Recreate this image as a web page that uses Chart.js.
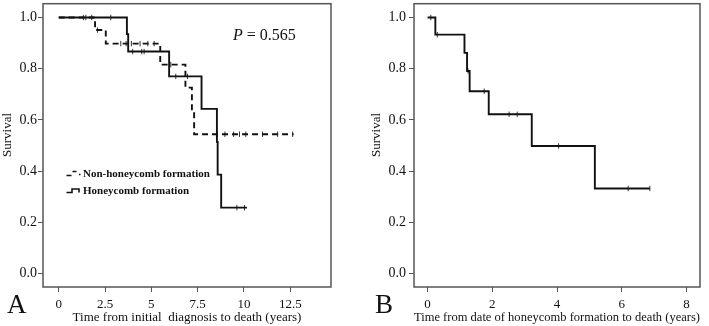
<!DOCTYPE html>
<html>
<head>
<meta charset="utf-8">
<script src="https://cdn.jsdelivr.net/npm/chart.js@4.4.1/dist/chart.umd.min.js"></script>
<style>
  html, body { margin: 0; padding: 0; background: #fff; }
  #wrap { position: relative; width: 709px; height: 326px; overflow: hidden; }
  .panel { position: absolute; top: 0; width: 354px; height: 326px; }
</style>
</head>
<body>
<div id="wrap">
  <div class="panel" style="left:0"><canvas id="canvasA" width="354" height="326"></canvas></div>
  <div class="panel" style="left:355px"><canvas id="canvasB" width="354" height="326"></canvas></div>
</div>
<script>
// panel A - honeycomb formation (solid)
const honeyTimes = [0, 3.68, 3.75, 5.96, 7.71, 8.54, 8.58, 8.77, 10.16];
const honeySurv  = [1.0, 0.935, 0.867, 0.770, 0.643, 0.514, 0.386, 0.257, 0.257];
const honeyCensor = [1.33, 1.46, 2.81, 3.99, 4.48, 4.61, 6.32, 6.95, 9.62, 10.03];

// panel A - non-honeycomb formation (dashed)
const nonTimes = [0, 1.96, 2.54, 5.48, 6.84, 7.19, 7.31, 12.68];
const nonSurv  = [1.0, 0.951, 0.898, 0.816, 0.726, 0.635, 0.544, 0.544];
const nonCensor = [1.78, 2.09, 3.35, 3.64, 3.92, 4.39, 4.81, 5.15, 6.05, 8.57, 8.97, 9.44, 9.76, 10.1, 11.0, 11.82, 12.63];

// panel B - time from honeycomb formation
const bTimes = [0, 0.24, 1.14, 1.22, 1.30, 1.89, 3.22, 5.17, 6.87];
const bSurv  = [1.0, 0.933, 0.862, 0.791, 0.712, 0.622, 0.498, 0.332, 0.332];
const bCensor = [0.1, 0.3, 1.25, 1.75, 2.52, 2.77, 4.05, 6.2, 6.87];

const yTicks = [0, 0.2, 0.4, 0.6, 0.8, 1.0];
const xTicksA = [0, 2.5, 5, 7.5, 10, 12.5];
const xTicksB = [0, 2, 4, 6, 8];

const serif = "'Liberation Serif', 'Times New Roman', serif";
const ink = '#111';
const frameColor = '#555';

function stepPoints(times, surv) {
  return times.map((t, i) => ({x: t, y: surv[i]}));
}
// censored marks sit on the curve level at that time
function censorPoints(times, surv, cens) {
  return cens.map(t => {
    let s = surv[0];
    for (let i = 0; i < times.length; i++) if (times[i] <= t) s = surv[i];
    return {x: t, y: s};
  });
}

function curve(label, pts, dash) {
  return {label: label, data: pts, stepped: 'before', showLine: true, pointRadius: 0,
    borderColor: ink, borderWidth: 1.9, borderDash: dash, fill: false};
}
function marks(pts) {
  return {label: '', data: pts, showLine: false, pointStyle: 'line', rotation: 90,
    pointRadius: 2.7, pointHoverRadius: 2.7, borderColor: '#333', borderWidth: 1};
}

const extras = {
  id: 'extras',
  beforeDatasetsDraw(chart) {
    const ctx = chart.ctx, a = chart.chartArea;
    ctx.save();
    ctx.strokeStyle = frameColor;
    ctx.lineWidth = 1.5;
    ctx.strokeRect(a.left, a.top, a.right - a.left, a.bottom - a.top);
    ctx.restore();
  },
  afterDraw(chart, args, o) {
    const ctx = chart.ctx;
    ctx.save();
    ctx.fillStyle = ink;
    // y title
    ctx.font = '13px ' + serif;
    ctx.textAlign = 'center';
    ctx.textBaseline = 'middle';
    ctx.translate(o.yTitleX, 135);
    ctx.rotate(-Math.PI / 2);
    ctx.fillText('Survival', 0, 0);
    ctx.setTransform(1, 0, 0, 1, 0, 0);
    // panel letter
    ctx.font = '27px ' + serif;
    ctx.textAlign = 'left';
    ctx.textBaseline = 'alphabetic';
    ctx.fillText(o.letter, o.letterX, 313);
    if (o.pValue) {
      ctx.font = 'italic 16px ' + serif;
      ctx.fillText('P', 233, 40);
      const w = ctx.measureText('P').width;
      ctx.font = '16px ' + serif;
      ctx.fillText(' = ' + o.pValue, 233 + w, 40);
    }
    if (o.legend) {
      const ds = chart.data.datasets;
      ctx.font = 'bold 11px ' + serif;
      ctx.textBaseline = 'middle';
      ctx.fillText(ds[0].label, 83, 174);
      ctx.fillText(ds[1].label, 83, 191);
      ctx.strokeStyle = ink;
      ctx.lineWidth = 1.6;
      ctx.beginPath();
      ctx.moveTo(66.5, 175.5); ctx.lineTo(71.5, 175.5);
      ctx.moveTo(72.5, 171.5); ctx.lineTo(76.5, 171.5);
      ctx.moveTo(79, 174.5); ctx.lineTo(80.5, 174.5);
      ctx.moveTo(66.5, 192.5); ctx.lineTo(72, 192.5); ctx.lineTo(72, 189); ctx.lineTo(79, 189); ctx.lineTo(79, 192.5);
      ctx.stroke();
    }
    ctx.restore();
  }
};

function axisGrid() {
  return {drawOnChartArea: false, drawTicks: true, tickLength: 5, color: frameColor, lineWidth: 1};
}

function makeChart(id, datasets, cfg) {
  return new Chart(document.getElementById(id), {
    type: 'line',
    data: {datasets: datasets},
    plugins: [extras],
    options: {
      responsive: false,
      animation: false,
      layout: {padding: {left: cfg.padLeft, right: cfg.padRight, top: 1, bottom: 0}},
      plugins: {
        legend: {display: false},
        tooltip: {enabled: false},
        extras: cfg.extras
      },
      scales: {
        x: {
          type: 'linear', min: cfg.xMin, max: cfg.xMax,
          afterBuildTicks: s => { s.ticks = cfg.xTicks.map(v => ({value: v})); },
          afterFit: s => { s.height = 39; s.paddingLeft = 0; s.paddingRight = 0; },
          border: {display: false},
          grid: axisGrid(),
          ticks: {padding: 5, color: ink, font: {family: serif, size: 13}},
          title: {display: true, text: cfg.xTitle, color: ink,
            font: {family: serif, size: 13}, padding: {top: 0, bottom: 1}}
        },
        y: {
          type: 'linear', min: -0.053, max: 1.054,
          afterBuildTicks: s => { s.ticks = yTicks.map(v => ({value: v})); },
          afterFit: s => { s.width = 43; s.paddingTop = 0; s.paddingBottom = 0; },
          border: {display: false},
          grid: axisGrid(),
          ticks: {padding: cfg.yPad, color: ink, font: {family: serif, size: 14},
            callback: v => v.toFixed(1)}
        }
      }
    }
  });
}

makeChart('canvasA', [
  curve('Non-honeycomb formation', stepPoints(nonTimes, nonSurv), [6, 4]),
  curve('Honeycomb formation', stepPoints(honeyTimes, honeySurv), []),
  marks(censorPoints(nonTimes, nonSurv, nonCensor)),
  marks(censorPoints(honeyTimes, honeySurv, honeyCensor))
], {
  padLeft: 0, padRight: 23, xMin: -0.85, xMax: 14.7, xTicks: xTicksA, yPad: 1,
  xTitle: 'Time from initial  diagnosis to death (years)',
  extras: {letter: 'A', letterX: 7, yTitleX: 8, pValue: '0.565', legend: true}
});

makeChart('canvasB', [
  curve('Survival', stepPoints(bTimes, bSurv), []),
  marks(censorPoints(bTimes, bSurv, bCensor))
], {
  padLeft: 16, padRight: 9, xMin: -0.42, xMax: 8.42, xTicks: xTicksB, yPad: 3,
  xTitle: 'Time from date of honeycomb formation to death (years)',
  extras: {letter: 'B', letterX: 20, yTitleX: 22, pValue: null, legend: false}
});
</script>
</body>
</html>
